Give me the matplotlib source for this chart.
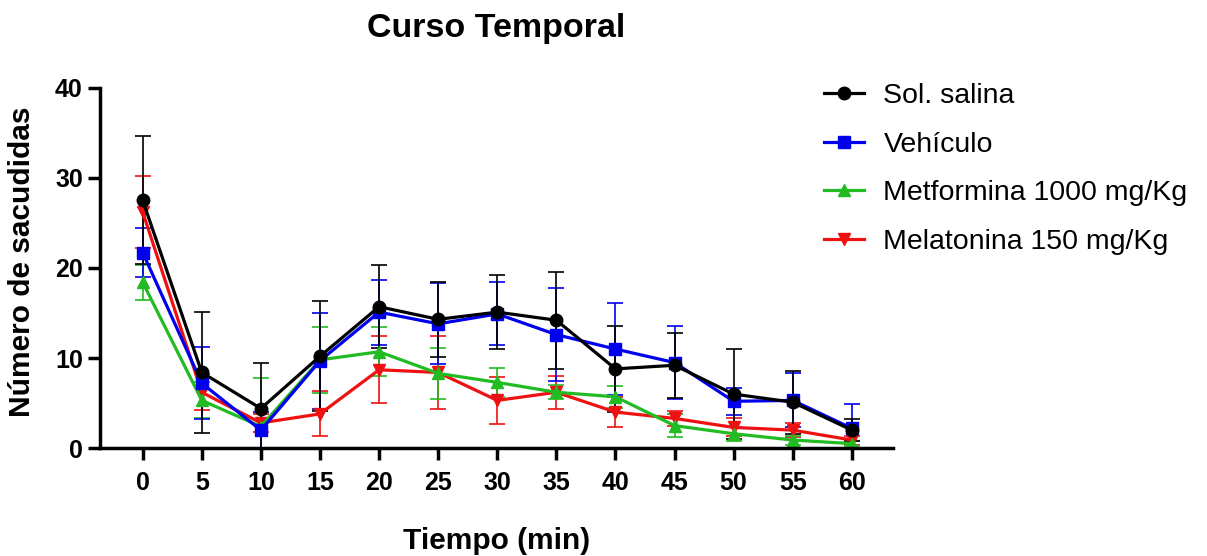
import numpy as np
import matplotlib.pyplot as plt
from matplotlib.lines import Line2D

plt.rcParams['font.family'] = ['Liberation Sans', 'DejaVu Sans']

tiempo = [0, 5, 10, 15, 20, 25, 30, 35, 40, 45, 50, 55, 60]

salina = [27.5, 8.4, 4.4, 10.2, 15.7, 14.3, 15.1, 14.2, 8.8, 9.2, 6.0, 5.1, 2.0]
salina_err = [7.1, 6.7, 5.0, 6.1, 4.6, 4.2, 4.1, 5.4, 4.8, 3.6, 5.0, 3.5, 1.2]

vehiculo = [21.7, 7.2, 2.0, 9.7, 15.1, 13.8, 14.9, 12.6, 11.0, 9.5, 5.2, 5.3, 2.2]
vehiculo_err = [2.7, 4.0, 2.0, 5.3, 3.6, 4.5, 3.5, 5.2, 5.1, 4.1, 1.5, 3.0, 2.7]

metformina = [18.4, 5.3, 2.4, 9.8, 10.7, 8.3, 7.3, 6.2, 5.7, 2.5, 1.6, 0.9, 0.5]
metformina_err = [1.9, 2.0, 5.4, 3.7, 2.7, 2.8, 1.6, 0.8, 1.2, 1.3, 0.8, 0.5, 0.3]

melatonina = [26.2, 6.2, 2.8, 3.8, 8.7, 8.4, 5.3, 6.2, 4.0, 3.3, 2.3, 2.0, 0.9]
melatonina_err = [4.0, 2.0, 1.0, 2.5, 3.7, 4.0, 2.6, 1.8, 1.7, 0.8, 1.0, 0.8, 0.5]

series = [
    ('Sol. salina', salina, salina_err, 'black', 'o'),
    ('Vehículo', vehiculo, vehiculo_err, '#0000ee', 's'),
    ('Metformina 1000 mg/Kg', metformina, metformina_err, '#22bb22', '^'),
    ('Melatonina 150 mg/Kg', melatonina, melatonina_err, '#ee1111', 'v'),
]

fig = plt.figure(figsize=(12.07, 5.56), dpi=100)
ax = fig.add_axes([0.083, 0.194, 0.657, 0.648])

# dibujar en orden inverso para que la solución salina quede encima
for nombre, valores, err, color, marcador in reversed(series):
    ax.errorbar(tiempo, valores, yerr=err, color=color, marker=marcador,
                markersize=9, linewidth=2.3, elinewidth=1.2, capsize=5.5,
                capthick=1.2)

ax.set_xlim(-3.6, 63.5)
ax.set_ylim(0, 40)
ax.set_xticks(tiempo)
ax.set_yticks([0, 10, 20, 30, 40])

for lado in ['top', 'right']:
    ax.spines[lado].set_visible(False)
for lado in ['left', 'bottom']:
    ax.spines[lado].set_linewidth(2.5)
ax.tick_params(width=2.5, length=8.5, labelsize=18)
ax.tick_params(axis='x', pad=8)
ax.tick_params(axis='y', pad=4)
for lbl in ax.get_xticklabels() + ax.get_yticklabels():
    lbl.set_fontweight('bold')

cx = (100 + 893) / 2 / 1207
fig.text(cx, 1 - 28 / 556, 'Curso Temporal', fontsize=24.5, fontweight='bold',
         ha='center', va='center')
fig.text(cx, 1 - 541 / 556, 'Tiempo (min)', fontsize=21.5, fontweight='bold',
         ha='center', va='center')
fig.text(22 / 1207, 1 - 262 / 556, 'Número de sacudidas', fontsize=21.5,
         fontweight='bold', rotation=90, ha='center', va='center')

handles = [Line2D([], [], color=c, marker=m, markersize=9, linewidth=2.3)
           for _, _, _, c, m in series]
labels = [s[0] for s in series]
ax.legend(handles, labels, loc='upper left', bbox_to_anchor=(0.88, 1.085),
          frameon=False, fontsize=20.5, handlelength=1.4, handletextpad=0.7,
          labelspacing=0.8)

fig.savefig('out.png', dpi=100)
